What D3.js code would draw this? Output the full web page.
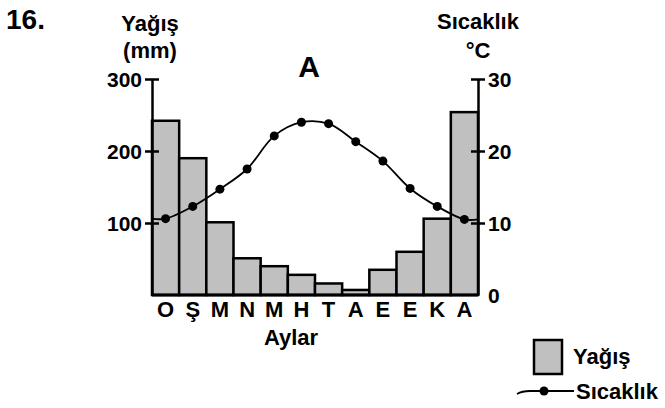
<!DOCTYPE html>
<meta charset="utf-8">
<script src="https://d3js.org/d3.v7.min.js"></script>
<style>
  body { margin: 0; background: #fff; }
  text { font-family: "Liberation Sans", Arial, sans-serif; font-weight: bold; }
</style>
<div id="my_dataviz"></div>
<script>

// month initials (Ocak ... Aralık)
var months = ["O", "Ş", "M", "N", "M", "H", "T", "A", "E", "E", "K", "A"];
// precipitation, mm
var yagis = [242, 190, 101, 51, 40, 28, 16, 7, 35, 60, 106, 254];
// temperature, °C
var sicaklik = [10.6, 12.3, 14.7, 17.5, 22.1, 24.0, 23.8, 21.3, 18.6, 14.8, 12.3, 10.5];
var yagisTicks = [100, 200, 300];
var sicaklikTicks = [0, 10, 20, 30];

var width = 665, height = 408;
var plotL = 152, plotR = 478, plotT = 79, plotB = 295;

var svg = d3.select("#my_dataviz")
  .append("svg")
    .attr("width", width)
    .attr("height", height);

var x = d3.scaleBand()
  .domain(d3.range(months.length))
  .range([plotL, plotR])
  .padding(0);

var yP = d3.scaleLinear().domain([0, 300]).range([plotB, plotT]);
var yT = d3.scaleLinear().domain([0, 30]).range([plotB, plotT]);

// bars
svg.append("g")
  .selectAll("rect")
  .data(yagis)
  .enter()
  .append("rect")
    .attr("x", function(d, i) { return x(i); })
    .attr("y", function(d) { return yP(d); })
    .attr("width", x.bandwidth())
    .attr("height", function(d) { return yP(0) - yP(d); })
    .attr("fill", "#c0c0c0")
    .attr("stroke", "#000")
    .attr("stroke-width", 2.5);

// temperature line (runs out to the axes at both ends)
var linePts = sicaklik.map(function(d, i) { return [x(i) + x.bandwidth() / 2, yT(d)]; });
var ext = [[plotL, yT(sicaklik[0])]].concat(linePts, [[plotR, yT(sicaklik[sicaklik.length - 1])]]);
svg.append("path")
  .datum(ext)
  .attr("fill", "none")
  .attr("stroke", "#000")
  .attr("stroke-width", 1.8)
  .attr("d", d3.line().curve(d3.curveCatmullRom))

svg.append("g")
  .selectAll("circle")
  .data(sicaklik)
  .enter()
  .append("circle")
    .attr("cx", function(d, i) { return x(i) + x.bandwidth() / 2; })
    .attr("cy", function(d) { return yT(d); })
    .attr("r", 4.5)
    .attr("fill", "#000");

// baseline
svg.append("line")
  .attr("x1", plotL).attr("x2", plotR)
  .attr("y1", plotB).attr("y2", plotB)
  .attr("stroke", "#000").attr("stroke-width", 3);

// left axis
var gL = svg.append("g")
  .attr("transform", "translate(" + plotL + ",0)")
  .call(d3.axisLeft(yP).tickValues(yagisTicks).tickSize(7).tickPadding(3).tickSizeOuter(0));
gL.select(".domain").attr("stroke-width", 2.5);
gL.selectAll(".tick line").attr("x1", -7).attr("x2", 7).attr("stroke-width", 2.5);
gL.selectAll(".tick text").attr("font-size", 21).attr("font-family", null).attr("dy", "0.36em");

// right axis
var gR = svg.append("g")
  .attr("transform", "translate(" + plotR + ",0)")
  .call(d3.axisRight(yT).tickValues(sicaklikTicks).tickSize(7).tickPadding(3).tickSizeOuter(0));
gR.select(".domain").attr("stroke-width", 2.5);
gR.selectAll(".tick line")
  .attr("x1", -7).attr("x2", 7).attr("stroke-width", 2.5)
  .attr("display", function(d) { return d === 0 ? "none" : null; });
gR.selectAll(".tick text").attr("font-size", 21).attr("font-family", null).attr("dy", "0.36em");

// month labels
svg.append("g")
  .selectAll("text")
  .data(months)
  .enter()
  .append("text")
    .attr("x", function(d, i) { return x(i) + x.bandwidth() / 2; })
    .attr("y", 317)
    .attr("text-anchor", "middle")
    .attr("font-size", 22)
    .text(function(d) { return d; });

// titles
svg.append("text").attr("x", 6).attr("y", 29).attr("font-size", 28).text("16.");
svg.append("text").attr("x", 150).attr("y", 31).attr("text-anchor", "middle").attr("font-size", 22).text("Yağış");
svg.append("text").attr("x", 150).attr("y", 58).attr("text-anchor", "middle").attr("font-size", 22).text("(mm)");
svg.append("text").attr("x", 478).attr("y", 29).attr("text-anchor", "middle").attr("font-size", 22).text("Sıcaklık");
svg.append("text").attr("x", 478).attr("y", 58).attr("text-anchor", "middle").attr("font-size", 22).text("°C");
svg.append("text").attr("x", 309).attr("y", 77).attr("text-anchor", "middle").attr("font-size", 30).text("A");
svg.append("text").attr("x", 291).attr("y", 345).attr("text-anchor", "middle").attr("font-size", 22).text("Aylar");

// legend
svg.append("rect")
  .attr("x", 534).attr("y", 340).attr("width", 28).attr("height", 34)
  .attr("fill", "#c0c0c0").attr("stroke", "#000").attr("stroke-width", 2.5);
svg.append("text").attr("x", 573).attr("y", 364).attr("font-size", 22).text("Yağış");
svg.append("path")
  .attr("d", "M517,394 Q522,391 530,391 L574,391")
  .attr("fill", "none").attr("stroke", "#000").attr("stroke-width", 1.8);
svg.append("circle").attr("cx", 544).attr("cy", 391).attr("r", 4.5).attr("fill", "#000");
svg.append("text").attr("x", 576).attr("y", 399).attr("font-size", 22).text("Sıcaklık");

</script>
